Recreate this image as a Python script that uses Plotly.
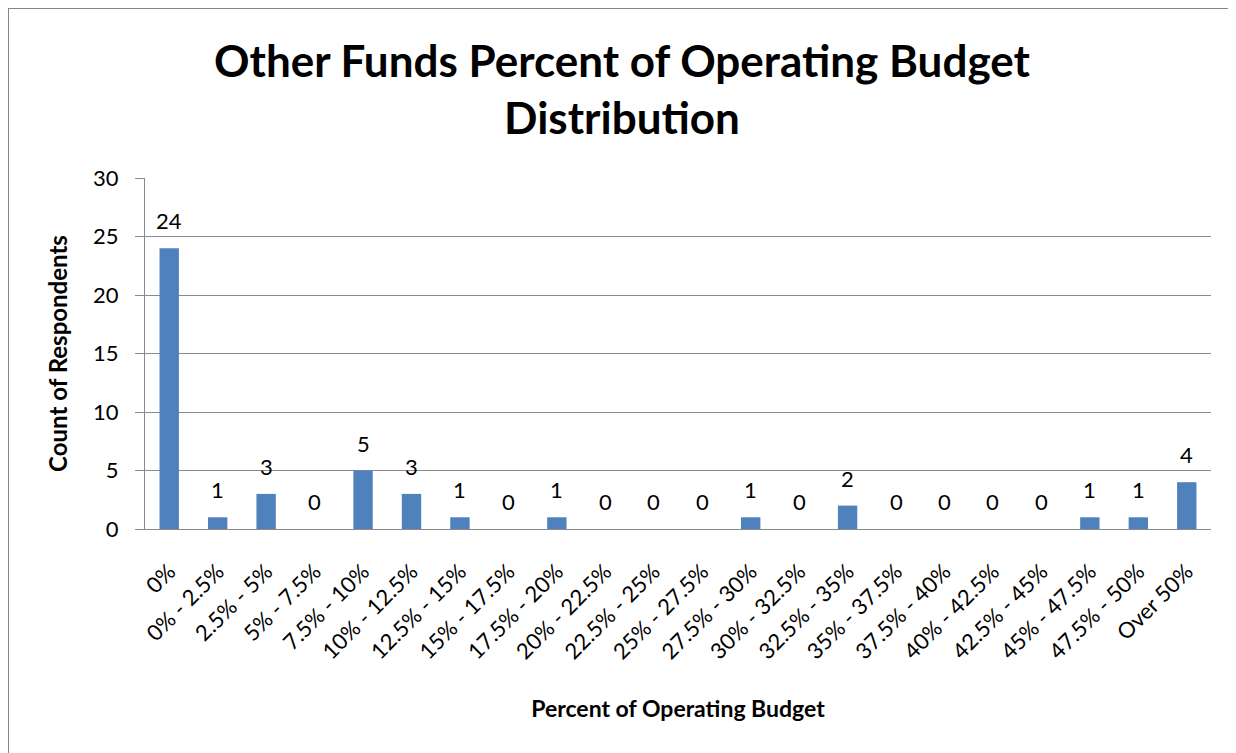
import plotly.graph_objects as go

categories = ["0%", "0% - 2.5%", "2.5% - 5%", "5% - 7.5%", "7.5% - 10%", "10% - 12.5%",
              "12.5% - 15%", "15% - 17.5%", "17.5% - 20%", "20% - 22.5%", "22.5% - 25%",
              "25% - 27.5%", "27.5% - 30%", "30% - 32.5%", "32.5% - 35%", "35% - 37.5%",
              "37.5% - 40%", "40% - 42.5%", "42.5% - 45%", "45% - 47.5%", "47.5% - 50%",
              "Over 50%"]
counts = [24, 1, 3, 0, 5, 3, 1, 0, 1, 0, 0, 0, 1, 0, 2, 0, 0, 0, 0, 1, 1, 4]
y_ticks = [0, 5, 10, 15, 20, 25, 30]

W, H = 1236, 753
# page body has an 8px offset; margins are in figure pixels
L, R, T, B = 137, 33, 170, 232
pw, ph = W - L - R, H - T - B

FONT = "Lato"
GRID = "#8a8a8a"

fig = go.Figure()
fig.add_trace(go.Bar(
    x=categories, y=counts,
    marker=dict(color="#4F81BD", line=dict(width=0)),
    hoverinfo="x+y",
))

for c, v in zip(categories, counts):
    fig.add_annotation(
        x=c, y=v, text=str(v), showarrow=False,
        xref="x", yref="y", yanchor="bottom", yshift=12,
        font=dict(family=FONT, size=22, color="#000000"),
    )

def px_x(p):
    return (p - L) / pw

def px_y(p):
    return (H - B - p) / ph

# outer chart frame (top and left edges visible)
fig.add_shape(type="line", xref="paper", yref="paper",
              x0=px_x(0), x1=px_x(1300), y0=px_y(0), y1=px_y(0),
              line=dict(color="#868686", width=2))
fig.add_shape(type="line", xref="paper", yref="paper",
              x0=px_x(0), x1=px_x(0), y0=px_y(0), y1=px_y(800),
              line=dict(color="#868686", width=2))

fig.update_layout(
    width=W, height=H,
    margin=dict(l=L, r=R, t=T, b=B, autoexpand=False),
    paper_bgcolor="white", plot_bgcolor="white",
    bargap=0.6,
    showlegend=False,
    font=dict(family=FONT, color="#000000"),
    title=dict(
        text="<b>Other Funds Percent of Operating Budget<br>Distribution</b>",
        x=(622 - 8) / W, xanchor="center", xref="container",
        y=(H - 69) / H, yanchor="middle", yref="container",
        font=dict(family=FONT, size=44, color="#000000"),
    ),
    xaxis=dict(
        type="category",
        tickangle=-45,
        showgrid=False,
        showline=True, linecolor=GRID, linewidth=1,
        ticks="",
        tickfont=dict(family=FONT, size=22, color="#000000"),
        ticklabelstandoff=20,
        title=dict(text="<b>Percent of Operating Budget</b>",
                   font=dict(family=FONT, size=23, color="#000000"),
                   standoff=37),
    ),
    yaxis=dict(
        range=[0, 30],
        tickvals=y_ticks,
        showgrid=True, gridcolor=GRID, gridwidth=1,
        showline=True, linecolor=GRID, linewidth=1,
        ticks="outside", ticklen=9, tickcolor=GRID,
        tickfont=dict(family=FONT, size=22, color="#000000"),
        ticklabelstandoff=12,
        zeroline=False,
        title=dict(text="<b>Count of Respondents</b>",
                   font=dict(family=FONT, size=24, color="#000000"),
                   standoff=18),
    ),
)

fig.write_html("out.html")
